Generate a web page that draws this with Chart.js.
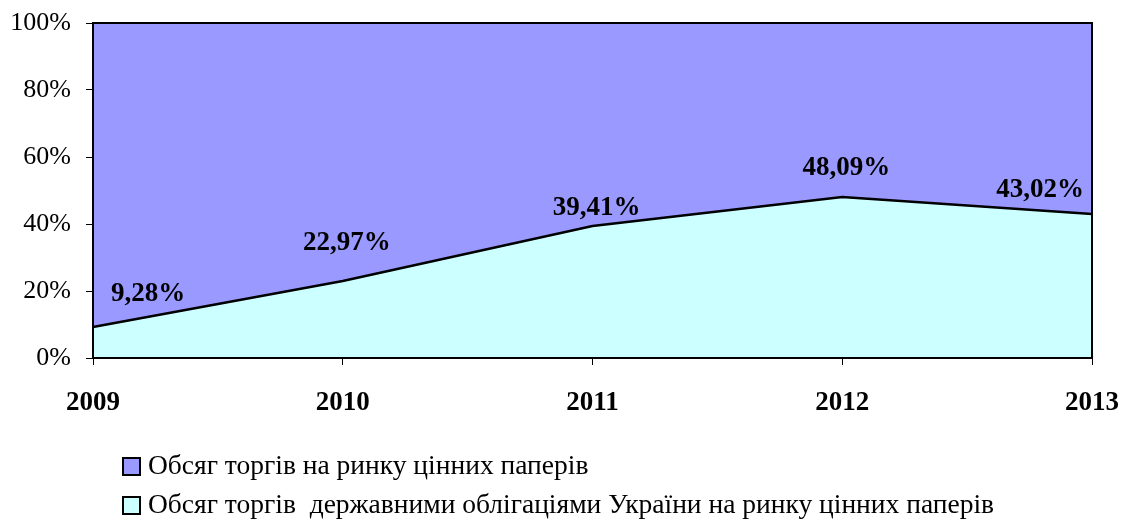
<!DOCTYPE html>
<html>
<head>
<meta charset="utf-8">
<script src="https://cdn.jsdelivr.net/npm/chart.js@4/dist/chart.umd.min.js"></script>
<style>
  body { margin: 0; background: #fff; }
  #wrap { width: 1121px; height: 521px; }
</style>
</head>
<body>
<div id="wrap"><canvas id="myChart"></canvas></div>
<script>
// donnees
const years = ["2009", "2010", "2011", "2012", "2013"];
const bondsShare = [9.28, 22.97, 39.41, 48.09, 43.02];
const otherShare = [90.72, 77.03, 60.59, 51.91, 56.98];
const yTicks = [0, 20, 40, 60, 80, 100];
const seriesNames = [
    "Обсяг торгів на ринку цінних паперів",
    "Обсяг торгів  державними облігаціями України на ринку цінних паперів"
];

const serif = "'Liberation Serif', 'Times New Roman', serif";

// etiquettes de valeurs (decalage par rapport au point)
const labelOffsets = [[55, -33], [4, -38], [4, -18], [4, -29], [-52, -24]];

const labelsPlugin = {
    id: 'valueLabels',
    afterDatasetsDraw(chart) {
        const c = chart.ctx;
        const meta = chart.getDatasetMeta(0);
        c.save();
        c.font = "bold 27px " + serif;
        c.fillStyle = '#000';
        c.textAlign = 'center';
        c.textBaseline = 'middle';
        meta.data.forEach((pt, i) => {
            const txt = bondsShare[i].toFixed(2).replace('.', ',') + '%';
            c.fillText(txt, pt.x + labelOffsets[i][0], pt.y + labelOffsets[i][1]);
        });
        c.restore();
    }
};

const frameLegendPlugin = {
    id: 'frameLegend',
    afterDraw(chart) {
        const c = chart.ctx;
        const a = chart.chartArea;
        c.save();
        // cadre de la zone de tracé
        c.strokeStyle = '#000';
        c.lineWidth = 2;
        c.strokeRect(a.left, a.top, a.right - a.left, a.bottom - a.top);
        // legende verticale
        const items = [
            { text: seriesNames[0], color: '#9999FF', y: 466 },
            { text: seriesNames[1], color: '#CCFFFF', y: 505 }
        ];
        c.font = "27.5px " + serif;
        c.textBaseline = 'middle';
        c.textAlign = 'left';
        items.forEach(it => {
            c.fillStyle = it.color;
            c.fillRect(123, it.y - 8, 17, 17);
            c.lineWidth = 2;
            c.strokeStyle = '#000';
            c.strokeRect(123, it.y - 8, 17, 17);
            c.fillStyle = '#000';
            c.fillText(it.text, 148, it.y + 1);
        });
        c.restore();
    }
};

let ctx = document.getElementById('myChart').getContext('2d');
let myChart = new Chart(ctx, {
    type: 'line',
    data: {
        labels: years,
        datasets: [{
            label: seriesNames[1],
            data: bondsShare,
            backgroundColor: '#CCFFFF',
            borderColor: '#000',
            borderWidth: 2.5,
            fill: 'origin',
            pointRadius: 0,
            tension: 0,
            order: 1
        }, {
            label: seriesNames[0],
            data: otherShare,
            backgroundColor: '#9999FF',
            borderWidth: 0,
            borderColor: 'rgba(0,0,0,0)',
            fill: '-1',
            pointRadius: 0,
            tension: 0,
            order: 2
        }]
    },
    options: {
        responsive: true,
        maintainAspectRatio: false,
        animation: false,
        layout: {
            padding: { left: 0, top: 23, right: 29, bottom: 103 }
        },
        plugins: {
            legend: { display: false },
            tooltip: { enabled: false }
        },
        scales: {
            x: {
                offset: false,
                grid: {
                    drawOnChartArea: false,
                    drawTicks: true,
                    tickLength: 7,
                    color: '#000',
                    lineWidth: 1
                },
                border: { display: false },
                ticks: {
                    color: '#000',
                    padding: 22,
                    maxRotation: 0,
                    font: { size: 27, weight: 'bold', family: serif }
                },
                afterFit: s => {
                    s.height = 60;
                    s.paddingLeft = 0;
                    s.paddingRight = 0;
                }
            },
            y: {
                stacked: true,
                min: 0,
                max: 100,
                afterBuildTicks: s => { s.ticks = yTicks.map(v => ({ value: v })); },
                grid: {
                    drawOnChartArea: false,
                    drawTicks: true,
                    tickLength: 7,
                    color: '#000',
                    lineWidth: 1
                },
                border: { display: false },
                ticks: {
                    color: '#000',
                    padding: 15,
                    callback: v => v + '%',
                    font: { size: 26, family: serif }
                },
                afterFit: s => {
                    s.width = 93;
                    s.paddingTop = 0;
                    s.paddingBottom = 0;
                }
            }
        }
    },
    plugins: [labelsPlugin, frameLegendPlugin]
});
</script>
</body>
</html>
